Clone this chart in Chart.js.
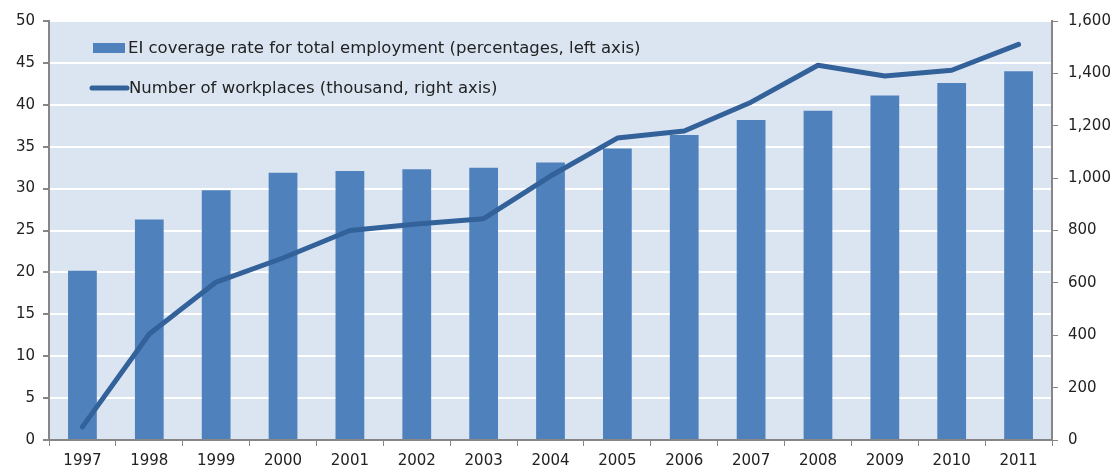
<!DOCTYPE html>
<html>
<head>
<meta charset="utf-8">
<script src="https://cdn.jsdelivr.net/npm/chart.js@4.4.1/dist/chart.umd.min.js"></script>
<style>
  html, body { margin: 0; padding: 0; background: #fff; }
  #wrap { width: 1116px; height: 470px; }
</style>
</head>
<body>
<div id="wrap"><canvas id="eiChart" width="1116" height="470"></canvas></div>
<script>
const years = ['1997', '1998', '1999', '2000', '2001', '2002', '2003', '2004', '2005', '2006', '2007', '2008', '2009', '2010', '2011'];
const coverageRate = [20.2, 26.3, 29.8, 31.9, 32.1, 32.3, 32.5, 33.1, 34.8, 36.4, 38.2, 39.3, 41.1, 42.6, 44.0];
const workplaces = [50, 405, 603, 695, 800, 825, 845, 1008, 1153, 1180, 1290, 1431, 1390, 1412, 1511];
const barLabel = 'EI coverage rate for total employment (percentages, left axis)';
const lineLabel = 'Number of workplaces (thousand, right axis)';

const FONT = '"DejaVu Sans", sans-serif';
const BAR_COLOR = '#4f81bd';
const LINE_COLOR = '#33619a';
const AXIS_COLOR = '#868686';

// light blue plot background + the legend box inside the plot
const plotBackground = {
    id: 'plotBackground',
    beforeDraw(chart) {
        const {ctx, chartArea} = chart;
        ctx.save();
        ctx.fillStyle = '#dbe5f1';
        ctx.fillRect(chartArea.left, chartArea.top, chartArea.right - chartArea.left, chartArea.bottom - chartArea.top);
        ctx.restore();
    }
};

const insideLegend = {
    id: 'insideLegend',
    afterDraw(chart) {
        const {ctx} = chart;
        ctx.save();
        ctx.fillStyle = BAR_COLOR;
        ctx.fillRect(93, 43, 32, 10);
        ctx.strokeStyle = LINE_COLOR;
        ctx.lineWidth = 5;
        ctx.lineCap = 'round';
        ctx.beginPath();
        ctx.moveTo(92, 88);
        ctx.lineTo(127, 88);
        ctx.stroke();
        ctx.fillStyle = '#222';
        ctx.font = '16.5px ' + FONT;
        ctx.textBaseline = 'middle';
        ctx.fillText(barLabel, 128, 49);
        ctx.fillText(lineLabel, 129, 89);
        ctx.restore();
    }
};

new Chart(document.getElementById('eiChart'), {
    data: {
        labels: years,
        datasets: [{
            type: 'line',
            label: lineLabel,
            data: workplaces,
            yAxisID: 'yRight',
            borderColor: LINE_COLOR,
            borderWidth: 5,
            borderCapStyle: 'round',
            borderJoinStyle: 'round',
            pointRadius: 0,
            tension: 0,
            order: 0
        }, {
            type: 'bar',
            label: barLabel,
            data: coverageRate,
            yAxisID: 'yLeft',
            backgroundColor: BAR_COLOR,
            barPercentage: 0.86,
            categoryPercentage: 0.5,
            order: 1
        }]
    },
    options: {
        responsive: false,
        animation: false,
        layout: { padding: { top: 21, left: 0, right: 0, bottom: 0 } },
        plugins: {
            legend: { display: false },
            tooltip: { enabled: false }
        },
        scales: {
            x: {
                offset: true,
                grid: { drawOnChartArea: false, drawTicks: true, tickLength: 6, tickColor: AXIS_COLOR, offset: true },
                border: { color: AXIS_COLOR, width: 2 },
                ticks: { color: '#222', font: { family: FONT, size: 15 }, padding: 6, maxRotation: 0 },
                afterFit(scale) { scale.height = 30; }
            },
            yLeft: {
                position: 'left',
                min: 0,
                max: 50,
                ticks: { stepSize: 5, color: '#222', font: { family: FONT, size: 15 }, padding: 8 },
                grid: { color: '#ffffff', lineWidth: 2, tickColor: AXIS_COLOR, tickLength: 6 },
                border: { color: AXIS_COLOR, width: 2 },
                afterFit(scale) { scale.width = 49; }
            },
            yRight: {
                position: 'right',
                min: 0,
                max: 1600,
                ticks: { stepSize: 200, color: '#222', font: { family: FONT, size: 15 }, padding: 10 },
                grid: { drawOnChartArea: false, tickColor: AXIS_COLOR, tickLength: 6 },
                border: { color: AXIS_COLOR, width: 2 },
                afterFit(scale) { scale.width = 64; }
            }
        }
    },
    plugins: [plotBackground, insideLegend]
});
</script>
</body>
</html>
